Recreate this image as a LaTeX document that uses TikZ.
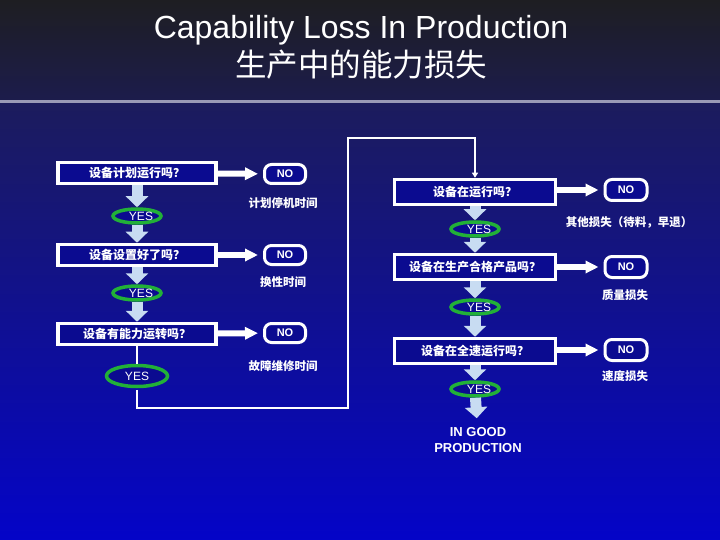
\documentclass[tikz,border=0pt]{standalone}
\usepackage{fontspec}
\setmainfont{Liberation Sans}
\newfontfamily\cjk{Noto Sans CJK SC}
\usetikzlibrary{arrows.meta,shapes.geometric,positioning}

\definecolor{hdtop}{HTML}{1E1E22}
\definecolor{hdbot}{HTML}{1C1C4C}
\definecolor{bgtop}{HTML}{1C1C5C}
\definecolor{bgbot}{HTML}{0404C8}
\definecolor{sepl}{HTML}{9A9AB6}
\definecolor{boxc}{HTML}{0B0B90}
\definecolor{okgreen}{HTML}{22B038}
\definecolor{arrc}{HTML}{C8DCF2}

\begin{document}
\begin{tikzpicture}[
  x=1pt, y=-1pt,
  q/.style={draw=white, line width=3.5pt, fill=boxc, text=white, inner sep=0pt,
            font=\cjk\bfseries\fontsize{12}{14}\selectfont,
            minimum width=158pt, minimum height=21pt},
  qr/.style={q, minimum width=161pt, minimum height=25pt},
  no/.style={draw=white, line width=3pt, fill=boxc, rounded corners=7pt, text=white,
             font=\bfseries\fontsize{11}{13}\selectfont, inner sep=0pt,
             minimum width=41pt, minimum height=19pt},
  yes/.style={ellipse, draw=okgreen, line width=3.5pt, fill=boxc, text=white, inner sep=0pt,
              font=\fontsize{12}{14}\selectfont, minimum width=48pt, minimum height=14pt},
  loss/.style={text=white, inner sep=0pt, font=\cjk\bfseries\fontsize{11.5}{13}\selectfont},
  dn/.style={draw=arrc, line width=11pt, -{Triangle[width=22pt,length=11pt]}},
  rt/.style={draw=white, line width=6pt, -{Triangle[width=12pt,length=13pt]}, shorten >=5pt},
  lp/.style={draw=white, line width=1.5pt, -{Triangle[width=6pt,length=5pt]}}
]
\useasboundingbox (0,0) rectangle (720,540);
% background
\shade[top color=hdtop, bottom color=hdbot] (0,0) rectangle (720,101);
\shade[top color=bgtop, bottom color=bgbot] (0,101) rectangle (720,540);
\draw[sepl, line width=2.5pt] (0,101.5) -- (720,101.5);

% title
\node[text=white, anchor=base, inner sep=0pt, font=\fontsize{32}{34}\selectfont] (ttl) at (361,39) {Capability Loss In Production};
\node[text=white, anchor=base, inner sep=0pt, font=\cjk\fontsize{31.5}{33}\selectfont] (ttlcn) at (361,77) {生产中的能力损失};

% left column
\node[q] (q1) at (137,173) {设备计划运行吗？};
\node[q] (q2) at (137,255) {设备设置好了吗？};
\node[q] (q3) at (137,334) {设备有能力运转吗？};
\node[yes] (y1) at (137,216) {\hspace*{8pt}YES};
\node[yes] (y2) at (137,293) {\hspace*{8pt}YES};
\node[yes, minimum width=61pt, minimum height=21pt] (y3) at (137,376) {YES};
\node[no] (n1) at (285,174) {NO};
\node[no] (n2) at (285,255) {NO};
\node[no] (n3) at (285,333) {NO};
\node[loss] (l1) at (283,203) {计划停机时间};
\node[loss] (l2) at (283,282) {换性时间};
\node[loss] (l3) at (283,366) {故障维修时间};

% right column
\node[qr] (q4) at (475,192) {设备在运行吗？};
\node[qr] (q5) at (475,267) {设备在生产合格产品吗？};
\node[qr] (q6) at (475,351) {设备在全速运行吗？};
\node[yes] (y4) at (475,229) {\hspace*{8pt}YES};
\node[yes] (y5) at (475,307) {\hspace*{8pt}YES};
\node[yes] (y6) at (475,389) {\hspace*{8pt}YES};
\node[no, minimum width=42pt, minimum height=21pt] (n4) at (626,190) {NO};
\node[no, minimum width=42pt, minimum height=21pt] (n5) at (626,267) {NO};
\node[no, minimum width=42pt, minimum height=21pt] (n6) at (626,350) {NO};
\node[loss] (l4) at (629,222) {其他损失（待料，早退）};
\node[loss] (l5) at (625,295) {质量损失};
\node[loss] (l6) at (625,376) {速度损失};
\node[text=white, align=center, inner sep=0pt, font=\bfseries\fontsize{13}{16}\selectfont] (ok) at (478,440) {IN GOOD\\PRODUCTION};

% loop back
\coordinate (lpa) at (137,408);
\coordinate (lpb) at (348,138);

% connectors
\draw[dn] (q1) -- (y1);
\draw[dn] (y1) -- (q2);
\draw[dn] (q2) -- (y2);
\draw[dn] (y2) -- (q3);
\draw[white, line width=1.5pt] (q3) -- (y3);
\draw[lp, shorten <=1.5pt] (y3) -- (lpa) -| (lpb) -| (q4);
\draw[dn] (q4) -- (y4);
\draw[dn] (y4) -- (q5);
\draw[dn] (q5) -- (y5);
\draw[dn] (y5) -- (q6);
\draw[dn] (q6) -- (y6);
\draw[dn, shorten >=9pt] (y6) -- (ok);
\draw[rt] (q1) -- (n1);
\draw[rt] (q2) -- (n2);
\draw[rt] (q3) -- (n3);
\draw[rt] (q4.east |- n4) -- (n4);
\draw[rt] (q5) -- (n5);
\draw[rt] (q6.east |- n6) -- (n6);
\end{tikzpicture}
\end{document}
